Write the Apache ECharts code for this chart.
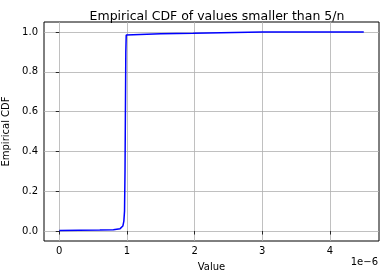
<!DOCTYPE html>
<html>
<head>
<meta charset="utf-8">
<script src="https://cdn.jsdelivr.net/npm/echarts@6/dist/echarts.min.js"></script>
<style>
html,body{margin:0;padding:0;background:#fff;}
#c{width:386px;height:278px;}
</style>
</head>
<body>
<div id="c"></div>
<script>
// ECDF sample points (x values in units of 1e-6)
const valuesE6 = [0, 0.3, 0.6, 0.8, 0.9, 0.94, 0.955, 0.965, 0.972, 0.978, 0.984, 0.99, 1.0, 1.5, 1.98, 2.0, 3.0, 4.5];
const cdfValues = [0.003, 0.004, 0.005, 0.007, 0.012, 0.025, 0.05, 0.1, 0.3, 0.6, 0.9, 0.985, 0.99, 0.991, 0.993, 1.0, 1.0, 1.0];
const xTicksE6 = [0, 1, 2, 3, 4];
const yTicks = [0.0, 0.2, 0.4, 0.6, 0.8, 1.0];

const FONT = 'DejaVu Sans';
const data = valuesE6.map((v, i) => [v * 1e-6, cdfValues[i]]);

const chart = echarts.init(document.getElementById('c'), null, {renderer: 'canvas'});
chart.setOption({
  animation: false,
  backgroundColor: '#ffffff',
  title: {
    text: 'Empirical CDF of values smaller than 5/n',
    left: 212, top: 5, textAlign: 'center',
    textStyle: {fontFamily: FONT, fontSize: 12.5, fontWeight: 'normal', color: '#000'}
  },
  grid: {left: 44, right: 7, top: 22, bottom: 37, show: true, borderColor: '#000', borderWidth: 1,
    backgroundColor: 'transparent', containLabel: false, outerBoundsMode: 'none'},
  xAxis: {
    type: 'value',
    min: -0.225e-6, max: 4.725e-6,
    name: 'Value', nameLocation: 'middle', nameGap: 21,
    nameTextStyle: {fontFamily: FONT, fontSize: 10, color: '#000'},
    axisLine: {show: false},
    axisTick: {show: true, length: 3.5, lineStyle: {color: '#000', width: 0.8}, customValues: xTicksE6.map(v => v * 1e-6)},
    axisLabel: {fontFamily: FONT, fontSize: 10, color: '#000', margin: 5, customValues: xTicksE6.map(v => v * 1e-6),
      formatter: v => String(Math.round(v * 1e6))},
    splitLine: {show: true, lineStyle: {color: '#b0b0b0', width: 0.8}}
  },
  yAxis: {
    type: 'value',
    min: -0.05, max: 1.05,
    name: 'Empirical CDF', nameLocation: 'middle', nameGap: 31, nameRotate: 90,
    nameTextStyle: {fontFamily: FONT, fontSize: 10, color: '#000'},
    axisLine: {show: false},
    axisTick: {show: true, length: 3.5, lineStyle: {color: '#000', width: 0.8}, customValues: yTicks},
    axisLabel: {fontFamily: FONT, fontSize: 10, color: '#000', margin: 6, customValues: yTicks,
      formatter: v => v.toFixed(1)},
    splitLine: {show: true, lineStyle: {color: '#b0b0b0', width: 0.8}}
  },
  graphic: [{
    type: 'text', right: 8, top: 257,
    style: {text: '1e\u22126', fontFamily: FONT, fontSize: 10, fill: '#000'}
  }],
  series: [{
    type: 'line',
    data: data,
    showSymbol: false,
    smooth: false,
    lineStyle: {color: '#0000ff', width: 1.5},
    itemStyle: {color: '#0000ff'}
  }]
});
</script>
</body>
</html>
